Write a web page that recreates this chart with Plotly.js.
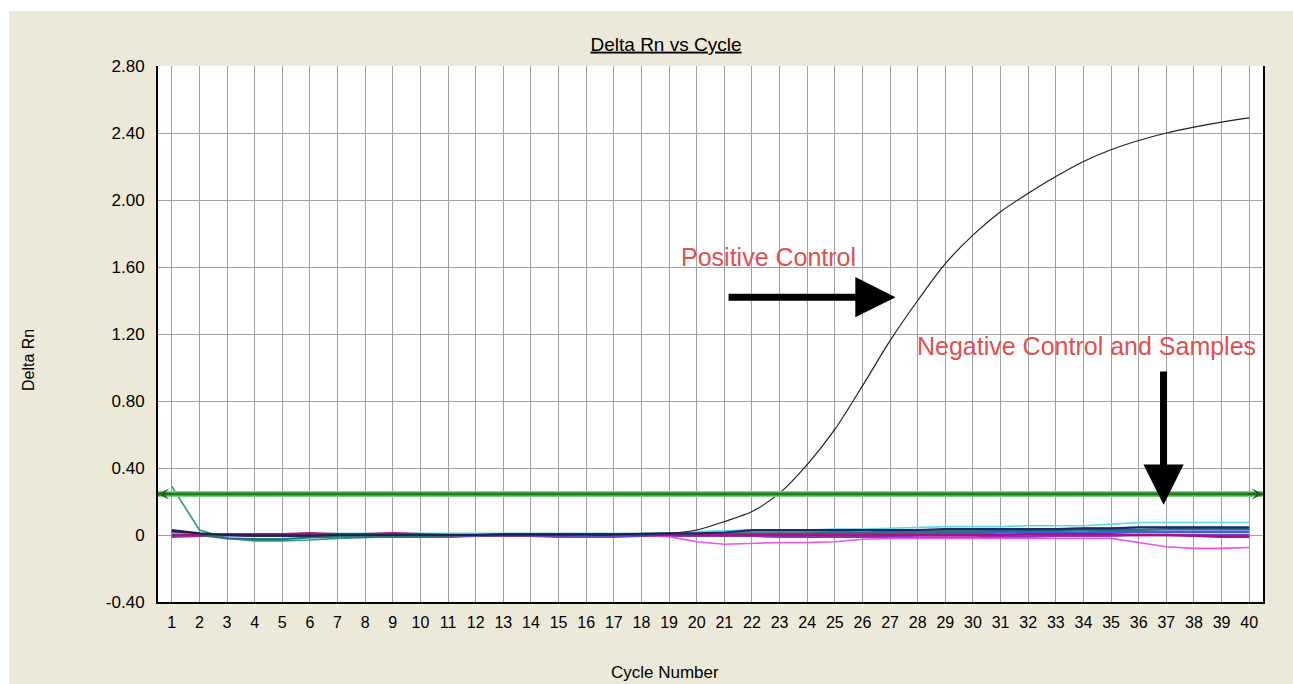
<!DOCTYPE html>
<html>
<head>
<meta charset="utf-8">
<script src="https://cdn.plot.ly/plotly-3.0.1.min.js"></script>
<style>
  html, body { margin: 0; padding: 0; background: #ffffff; width: 1293px; height: 684px; overflow: hidden; }
  #chart { position: absolute; left: 9px; top: 11px; width: 1284px; height: 673px; }
</style>
</head>
<body>
<div id="chart"></div>
<script>
// ---- Data ----
var cycles = [1,2,3,4,5,6,7,8,9,10,11,12,13,14,15,16,17,18,19,20,21,22,23,24,25,26,27,28,29,30,31,32,33,34,35,36,37,38,39,40];
var cycleLabels = ["1","2","3","4","5","6","7","8","9","10","11","12","13","14","15","16","17","18","19","20","21","22","23","24","25","26","27","28","29","30","31","32","33","34","35","36","37","38","39","40"];

var positiveControl = [0.02,0.01,0.00,0.00,0.00,0.00,0.00,0.00,0.00,0.00,0.00,0.00,0.00,0.00,0.00,0.00,0.00,0.01,0.01,0.03,0.08,0.14,0.25,0.42,0.63,0.89,1.16,1.40,1.62,1.79,1.93,2.04,2.14,2.23,2.30,2.355,2.40,2.435,2.465,2.49];

var sampleTeal   = [0.29,0.03,-0.02,-0.035,-0.035,-0.03,-0.02,-0.015,-0.01,-0.01,-0.01,-0.005,0.00,0.00,0.00,0.005,0.005,0.005,0.01,0.01,0.015,0.02,0.02,0.02,0.02,0.025,0.025,0.03,0.03,0.03,0.03,0.035,0.035,0.04,0.04,0.045,0.045,0.045,0.045,0.04];
var samplePink   = [0.00,0.005,0.005,0.005,0.005,0.005,0.00,0.00,0.005,0.005,0.00,0.00,0.00,0.00,0.00,0.00,0.005,0.00,-0.01,-0.04,-0.055,-0.05,-0.045,-0.045,-0.04,-0.025,-0.02,-0.02,-0.02,-0.02,-0.02,-0.02,-0.02,-0.02,-0.02,-0.045,-0.07,-0.08,-0.08,-0.075];
var sampleCyan   = [0.01,0.00,0.00,0.00,0.00,0.005,0.01,0.01,0.01,0.01,0.01,0.01,0.01,0.01,0.01,0.01,0.01,0.01,0.01,0.02,0.025,0.03,0.03,0.03,0.035,0.035,0.04,0.045,0.05,0.05,0.05,0.055,0.055,0.055,0.065,0.075,0.075,0.075,0.075,0.075];
var sampleNavy   = [0.03,0.01,0.00,-0.005,-0.005,-0.005,0.00,0.00,0.00,0.00,0.00,0.00,0.005,0.005,0.005,0.005,0.005,0.005,0.01,0.01,0.015,0.03,0.03,0.03,0.03,0.03,0.03,0.03,0.035,0.035,0.035,0.035,0.035,0.04,0.04,0.045,0.045,0.045,0.045,0.045];
var sampleMagenta= [0.00,0.00,0.005,0.005,0.005,0.01,0.005,0.005,0.01,0.005,0.00,0.00,0.00,0.00,0.00,0.005,0.005,0.00,0.00,0.00,0.00,0.00,0.00,0.00,0.00,0.00,0.00,0.00,0.00,0.00,0.00,0.005,0.005,0.005,0.005,0.00,0.00,-0.005,-0.01,-0.01];
var samplePurple = [-0.01,-0.005,0.00,-0.005,-0.005,-0.005,-0.005,-0.01,-0.01,-0.01,-0.01,-0.005,-0.005,-0.005,-0.01,-0.01,-0.01,-0.005,-0.005,-0.005,-0.005,-0.005,-0.01,-0.01,-0.01,-0.01,-0.01,-0.015,-0.015,-0.015,-0.01,-0.01,-0.005,-0.005,-0.005,0.00,0.00,0.00,0.00,0.00];
var sampleBlue   = [0.02,0.00,0.00,0.00,0.00,0.00,-0.005,-0.005,-0.005,-0.005,-0.005,-0.005,0.00,0.00,0.00,0.00,0.00,0.00,0.00,0.00,0.00,0.005,0.005,0.005,0.005,0.01,0.01,0.01,0.01,0.01,0.015,0.015,0.015,0.015,0.02,0.02,0.02,0.02,0.02,0.02];
var sampleSlate  = [0.02,0.00,-0.02,-0.025,-0.025,-0.015,-0.01,-0.005,-0.005,-0.005,-0.005,0.00,0.00,0.00,0.00,0.00,0.00,0.00,0.00,0.005,0.01,0.01,0.01,0.01,0.015,0.015,0.02,0.02,0.02,0.02,0.025,0.025,0.025,0.03,0.03,0.03,0.035,0.035,0.035,0.035];

var threshold = 0.245;

var yTickVals = [-0.40,0,0.40,0.80,1.20,1.60,2.00,2.40,2.80];
var yTickText = ["-0.40","0","0.40","0.80","1.20","1.60","2.00","2.40","2.80"];

// ---- Traces ----
function sample(y, color, width) {
  return { x: cycles, y: y, type: 'scatter', mode: 'lines',
           line: { color: color, width: width }, hoverinfo: 'skip', showlegend: false };
}
var traces = [
  sample(sampleTeal,    '#2e9a78', 1.6),
  sample(samplePurple,  '#7b3fbf', 2.5),
  sample(sampleBlue,    '#3d5cf0', 2.5),
  sample(sampleSlate,   '#2f6f7f', 2.2),
  sample(samplePink,    '#f050f0', 1.6),
  sample(sampleCyan,    '#5fd8e8', 1.6),
  sample(sampleMagenta, '#b0107a', 2.5),
  sample(sampleNavy,    '#1a2a6a', 2.2),
  { x: cycles, y: positiveControl, type: 'scatter', mode: 'lines',
    line: { color: '#222222', width: 1.2, shape: 'spline', smoothing: 0.8 }, showlegend: false, hoverinfo: 'skip' }
];

var redText = '#e05050';
var fontFam = '"Liberation Sans", Arial, sans-serif';

var layout = {
  width: 1284, height: 673,
  paper_bgcolor: '#ece9d8',
  plot_bgcolor: '#ffffff',
  margin: { l: 149, r: 30, t: 55, b: 82 },
  font: { family: fontFam, color: '#000000', size: 16 },
  title: { text: '<u>Delta Rn vs Cycle</u>', font: { family: fontFam, size: 19, color: '#000' },
           xref: 'container', yref: 'container', x: 0.5117, xanchor: 'center', y: 0.951, yanchor: 'middle' },
  showlegend: false,
  xaxis: {
    range: [0.5, 40.5], tickmode: 'array', tickvals: cycles, ticktext: cycleLabels,
    showgrid: true, gridcolor: '#a0a0a0', gridwidth: 1, zeroline: false,
    showline: true, linecolor: '#000000', linewidth: 2,
    ticks: 'outside', ticklen: 5, tickcolor: 'rgba(0,0,0,0)',
    tickfont: { size: 16, family: fontFam }, fixedrange: true
  },
  yaxis: {
    range: [-0.40, 2.80], tickmode: 'array', tickvals: yTickVals, ticktext: yTickText,
    showgrid: true, gridcolor: '#a0a0a0', gridwidth: 1, zeroline: false,
    showline: true, mirror: true, linecolor: '#000000', linewidth: 2,
    ticks: 'outside', ticklen: 8, tickcolor: 'rgba(0,0,0,0)',
    tickfont: { size: 17, family: fontFam }, fixedrange: true
  },
  shapes: [
    { type: 'line', xref: 'paper', x0: 0, x1: 1, yref: 'y', y0: threshold, y1: threshold,
      line: { color: '#7fcf7f', width: 6 }, layer: 'above' },
    { type: 'line', xref: 'paper', x0: 0, x1: 1, yref: 'y', y0: threshold, y1: threshold,
      line: { color: '#1f7f1f', width: 3 }, layer: 'above' }
  ],
  annotations: [
    // threshold end arrowheads
    { x: 0.5, y: threshold, ax: 1.1, ay: threshold, xref: 'x', yref: 'y', axref: 'x', ayref: 'y',
      text: '', showarrow: true, arrowhead: 3, arrowsize: 1.6, arrowwidth: 1.2, arrowcolor: '#1f5f1f', standoff: 0 },
    { x: 40.5, y: threshold, ax: 39.9, ay: threshold, xref: 'x', yref: 'y', axref: 'x', ayref: 'y',
      text: '', showarrow: true, arrowhead: 3, arrowsize: 1.6, arrowwidth: 1.2, arrowcolor: '#1f5f1f', standoff: 0 },
    // labels
    { x: 22.6, y: 1.66, xref: 'x', yref: 'y', text: 'Positive Control', showarrow: false,
      font: { family: fontFam, size: 25, color: redText }, xanchor: 'center', yanchor: 'middle' },
    { x: 34.1, y: 1.13, xref: 'x', yref: 'y', text: 'Negative Control and Samples', showarrow: false,
      font: { family: fontFam, size: 25, color: redText }, xanchor: 'center', yanchor: 'middle' },
    // big black arrows
    { x: 27.2, y: 1.42, ax: 21.1, ay: 1.42, xref: 'x', yref: 'y', axref: 'x', ayref: 'y',
      text: '', showarrow: true, arrowhead: 2, arrowsize: 1.15, arrowwidth: 7, arrowcolor: '#000000', standoff: 0 },
    { x: 36.9, y: 0.18, ax: 36.9, ay: 0.985, xref: 'x', yref: 'y', axref: 'x', ayref: 'y',
      text: '', showarrow: true, arrowhead: 2, arrowsize: 1.15, arrowwidth: 7, arrowcolor: '#000000', standoff: 0 },
    // axis titles
    { x: 0, y: 0, xref: 'paper', yref: 'paper', text: 'Delta Rn', textangle: -90,
      showarrow: false, font: { family: fontFam, size: 16, color: '#000' }, xanchor: 'center', yanchor: 'middle' },
    { x: 0, y: 0, xref: 'paper', yref: 'paper', text: 'Cycle Number',
      showarrow: false, font: { family: fontFam, size: 17, color: '#000' }, xanchor: 'center', yanchor: 'middle' }
  ]
};

// place axis-title annotations at container pixel positions (paper coords are relative to the plot area)
(function () {
  var W = layout.width, H = layout.height, m = layout.margin;
  var pw = W - m.l - m.r, ph = H - m.t - m.b;
  var yt = layout.annotations[6], xt = layout.annotations[7];
  yt.x = (19 - m.l) / pw; yt.y = (H - m.b - 349) / ph;
  xt.x = (656 - m.l) / pw; xt.y = (H - m.b - 661) / ph;
})();

Plotly.newPlot('chart', traces, layout, { displayModeBar: false, staticPlot: true });
</script>
</body>
</html>
